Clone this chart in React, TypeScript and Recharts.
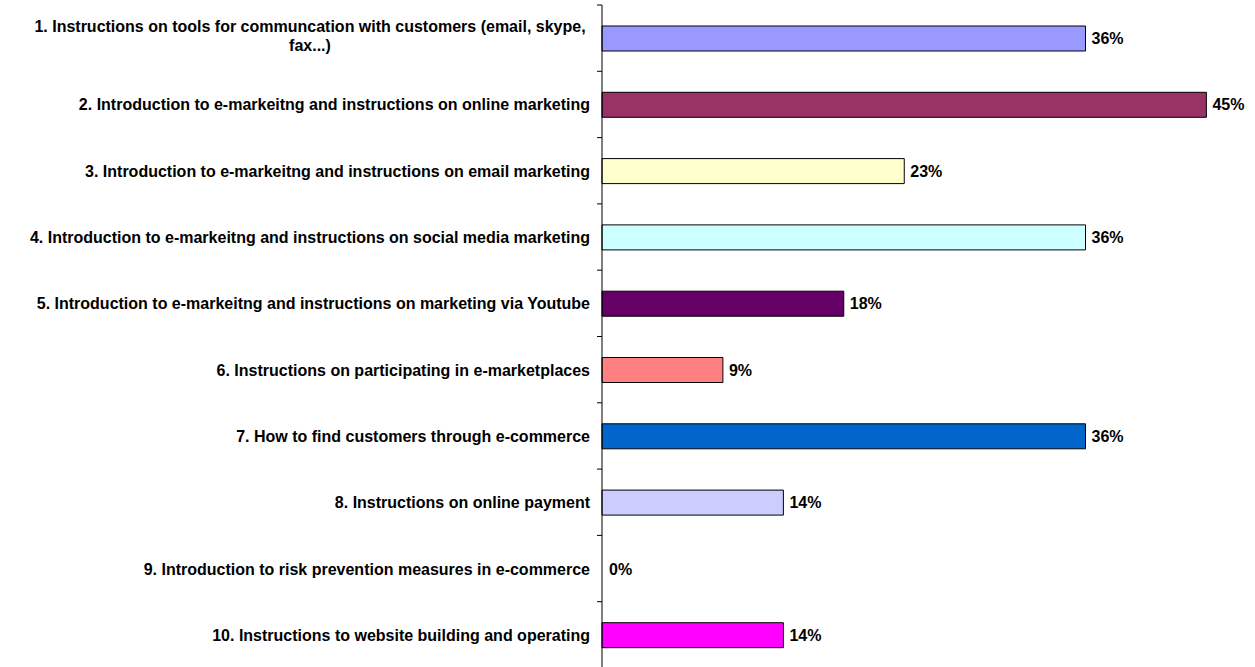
import React from 'react';
import { BarChart, Bar, XAxis, YAxis, Cell, LabelList } from 'recharts';

const categories: string[][] = [
  ['1. Instructions on tools for communcation with customers (email, skype,', 'fax...)'],
  ['2. Introduction to e-markeitng and instructions on online marketing'],
  ['3. Introduction to e-markeitng and instructions on email marketing'],
  ['4. Introduction to e-markeitng and instructions on social media marketing'],
  ['5. Introduction to e-markeitng and instructions on marketing via Youtube'],
  ['6. Instructions on participating in e-marketplaces'],
  ['7. How to find customers through e-commerce'],
  ['8. Instructions on online payment'],
  ['9. Introduction to risk prevention measures in e-commerce'],
  ['10. Instructions to website building and operating'],
];
const values: number[] = [36.36, 45.45, 22.73, 36.36, 18.18, 9.09, 36.36, 13.64, 0, 13.64];
const valueLabels: string[] = ['36%', '45%', '23%', '36%', '18%', '9%', '36%', '14%', '0%', '14%'];
const colors: string[] = ['#9999FF', '#993366', '#FFFFCC', '#CCFFFF', '#660066', '#FF8080', '#0066CC', '#CCCCFF', '#000080', '#FF00FF'];

const data = categories.map((c, i) => ({ key: String(i), value: values[i], label: valueLabels[i] }));

const FONT = '"Liberation Sans", Arial, sans-serif';
const FS = 16;

const CatTick = (props: any) => {
  const { x, y, payload, height } = props;
  const idx = Number(payload.value);
  const lines = categories[idx];
  const half = payload && typeof payload.offset === 'number' && payload.offset > 0
    ? payload.offset
    : (height || 663) / (categories.length * 2);
  const axisX = x + 8;
  const right = axisX - 12;
  const tickMarks = (
    <g>
      <line x1={axisX - 5} x2={axisX} y1={y - half} y2={y - half} stroke="#000" strokeWidth={1} />
      {idx === categories.length - 1 && (
        <line x1={axisX - 5} x2={axisX} y1={y + half} y2={y + half} stroke="#000" strokeWidth={1} />
      )}
    </g>
  );
  if (lines.length === 1) {
    return (
      <g>
        {tickMarks}
        <text x={right} y={y} dy={6} textAnchor="end" fontFamily={FONT} fontSize={FS} fontWeight="bold" fill="#000">
          {lines[0]}
        </text>
      </g>
    );
  }
  const cx = right - 280;
  return (
    <g>
      {tickMarks}
      <text x={cx} y={y} textAnchor="middle" fontFamily={FONT} fontSize={FS} fontWeight="bold" fill="#000">
        {lines.map((l, i) => (
          <tspan key={i} x={cx} dy={i === 0 ? -6 : 19}>{l}</tspan>
        ))}
      </text>
    </g>
  );
};

export default function App() {
  return (
    <div style={{ position: 'absolute', left: 0, top: 0 }}>
      <BarChart
        width={1255}
        height={670}
        data={data}
        layout="vertical"
        margin={{ top: 5, right: 28, bottom: 2, left: 0 }}
        barSize={25}
      >
        <XAxis type="number" domain={[0, 47]} hide />
        <YAxis
          type="category"
          dataKey="key"
          width={602}
          axisLine={{ stroke: '#000', strokeWidth: 1 }}
          tickLine={false}
          tick={<CatTick />}
          interval={0}
        />
        <Bar dataKey="value" isAnimationActive={false} stroke="#000" strokeWidth={1} minPointSize={1}>
          {data.map((d, i) => (
            <Cell
              key={i}
              fill={d.value === 0 ? 'none' : colors[i]}
              stroke={d.value === 0 ? 'none' : '#000'}
            />
          ))}
          <LabelList
            dataKey="label"
            position="right"
            offset={6}
            style={{ fontFamily: FONT, fontSize: FS, fontWeight: 'bold', fill: '#000' }}
          />
        </Bar>
      </BarChart>
    </div>
  );
}
